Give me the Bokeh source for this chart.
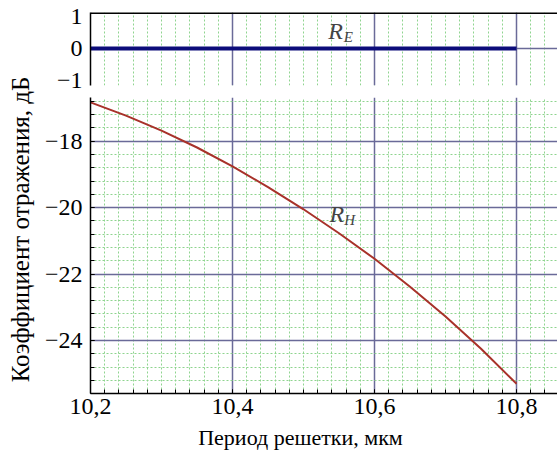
from math import pi
from bokeh.plotting import figure
from bokeh.layouts import column, row
from bokeh.models import FixedTicker, Label, Span, Range1d
from bokeh.core.properties import value
from bokeh.embed import file_html
from bokeh.resources import INLINE

# ---- data ----
period = [10.2, 10.25, 10.3, 10.35, 10.4, 10.45, 10.5, 10.55, 10.6, 10.65, 10.7, 10.75, 10.8]
r_h = [-16.83, -17.23, -17.68, -18.19, -18.76, -19.38, -20.05, -20.77, -21.54, -22.38, -23.28, -24.25, -25.30]
period_e = [10.2, 10.8]
r_e = [0.0, 0.0]

x_ticks = [10.2, 10.4, 10.6, 10.8]
x_tick_labels = {10.2: "10,2", 10.4: "10,4", 10.6: "10,6", 10.8: "10,8"}
x_minor = [round(10.2 + 0.02 * i, 2) for i in range(34)]
top_ticks = [-1, 0, 1]
top_tick_labels = {-1: "\u22121", 0: "0", 1: "1"}
bot_ticks = [-24, -22, -20, -18]
bot_tick_labels = {-24: "\u221224", -22: "\u221222", -20: "\u221220", -18: "\u221218"}
bot_minor = [round(-25.6 + 0.4 * i, 1) for i in range(23)]

x_label = "Период решетки, мкм"
y_label = "Коэффициент отражения, дБ"

FONT = "Liberation Serif"
MAJOR = "#6a6a98"
MINOR = "#8fd48f"
TICK_FS = "24px"

x_range = Range1d(10.2, 10.8577)


def bare(p):
    p.axis.visible = False
    p.grid.visible = False
    p.outline_line_color = None
    return p


# ---- left strip with y-axis title ----
lab = bare(figure(width=36, height=425, output_backend="svg", toolbar_location=None,
                  x_range=Range1d(0, 1), y_range=Range1d(0, 425),
                  min_border=0, min_border_left=0, min_border_right=0,
                  min_border_top=0, min_border_bottom=0))
lab.text(x=[0.55], y=[425 - 229], text=[y_label], angle=pi / 2,
         text_align="center", text_baseline="middle",
         text_font=value(FONT), text_font_size="25px", text_color="black")

# ---- top panel ----
top = figure(width=521, height=97, output_backend="svg", toolbar_location=None,
             x_range=x_range, y_range=Range1d(-1.156, 1.125),
             min_border_left=54, min_border_right=0, min_border_top=12, min_border_bottom=12)
top.xaxis.visible = False
top.outline_line_color = None
top.yaxis.ticker = FixedTicker(ticks=top_ticks)
top.yaxis.major_label_overrides = top_tick_labels
top.yaxis.major_tick_in = 0
top.yaxis.major_tick_out = 0
top.yaxis.minor_tick_in = 0
top.yaxis.minor_tick_out = 0
top.yaxis.axis_line_color = "black"
top.yaxis.axis_line_width = 1.5
top.yaxis.major_label_text_font = FONT
top.yaxis.major_label_text_font_size = TICK_FS
top.yaxis.major_label_text_color = "black"
top.yaxis.major_label_standoff = 8
top.xgrid.ticker = FixedTicker(ticks=x_ticks, minor_ticks=x_minor)
top.xgrid.grid_line_color = MAJOR
top.xgrid.grid_line_width = 1.5
top.xgrid.minor_grid_line_color = MINOR
top.xgrid.minor_grid_line_dash = "2 2"
top.xgrid.minor_grid_line_width = 1
top.ygrid.ticker = FixedTicker(ticks=[0])
top.ygrid.grid_line_color = MAJOR
top.ygrid.grid_line_width = 1.5
top.add_layout(Span(location=1.11, dimension="width", line_color="black", line_width=2))
top.line(period_e, r_e, line_color="#0c0c7a", line_width=4)
top.add_layout(Label(x=10.545, y=0.5625, text="R", text_font=FONT, text_font_style="italic",
                     text_font_size="24px", text_align="center", text_baseline="middle"))
top.add_layout(Label(x=10.563, y=0.36, text="E", text_font=FONT, text_font_style="italic",
                     text_font_size="15px", text_align="center", text_baseline="middle"))

# ---- bottom panel ----
bot = figure(width=521, height=328, output_backend="svg", toolbar_location=None,
             x_range=x_range, y_range=Range1d(-25.595, -16.685),
             min_border_left=54, min_border_right=0, min_border_top=0, min_border_bottom=32)
bot.outline_line_color = None
bot.xaxis.ticker = FixedTicker(ticks=x_ticks, minor_ticks=x_minor)
bot.xaxis.major_label_overrides = x_tick_labels
bot.xaxis.major_tick_in = 4
bot.xaxis.major_tick_out = 0
bot.xaxis.minor_tick_in = 4
bot.xaxis.minor_tick_out = 0
bot.xaxis.axis_line_width = 1.5
bot.xaxis.axis_line_color = "black"
bot.xaxis.major_tick_line_color = "black"
bot.xaxis.minor_tick_line_color = "black"
bot.xaxis.major_label_text_font = FONT
bot.xaxis.major_label_text_font_size = TICK_FS
bot.xaxis.major_label_text_color = "black"
bot.xaxis.major_label_standoff = 5

bot.yaxis.ticker = FixedTicker(ticks=bot_ticks, minor_ticks=bot_minor)
bot.yaxis.major_label_overrides = bot_tick_labels
bot.yaxis.major_tick_in = 4
bot.yaxis.major_tick_out = 0
bot.yaxis.minor_tick_in = 4
bot.yaxis.minor_tick_out = 0
bot.yaxis.axis_line_width = 1.5
bot.yaxis.axis_line_color = "black"
bot.yaxis.major_label_text_font = FONT
bot.yaxis.major_label_text_font_size = TICK_FS
bot.yaxis.major_label_text_color = "black"
bot.yaxis.major_label_standoff = 8

bot.xgrid.ticker = FixedTicker(ticks=x_ticks, minor_ticks=x_minor)
bot.ygrid.ticker = FixedTicker(ticks=bot_ticks, minor_ticks=bot_minor)
for g in (bot.xgrid, bot.ygrid):
    g.grid_line_color = MAJOR
    g.grid_line_width = 1.5
    g.minor_grid_line_color = MINOR
    g.minor_grid_line_dash = "2 2"
    g.minor_grid_line_width = 1

bot.line(period, r_h, line_color="#a8322a", line_width=2)
bot.add_layout(Label(x=10.547, y=-20.185, text="R", text_font=FONT, text_font_style="italic",
                     text_font_size="24px", text_align="center", text_baseline="middle"))
bot.add_layout(Label(x=10.565, y=-20.38, text="H", text_font=FONT, text_font_style="italic",
                     text_font_size="15px", text_align="center", text_baseline="middle"))

# ---- bottom strip with x-axis title ----
xlab = bare(figure(width=557, height=30, output_backend="svg", toolbar_location=None,
                   x_range=Range1d(0, 557), y_range=Range1d(0, 30),
                   min_border=0, min_border_left=0, min_border_right=0,
                   min_border_top=0, min_border_bottom=0))
xlab.text(x=[300], y=[30 - 12], text=[x_label], text_align="center", text_baseline="middle",
          text_font=value(FONT), text_font_size="22px", text_color="black")

layout = column(row(lab, column(top, bot, spacing=0), spacing=0), xlab, spacing=0)
open("out.html", "w").write(file_html(layout, INLINE))
